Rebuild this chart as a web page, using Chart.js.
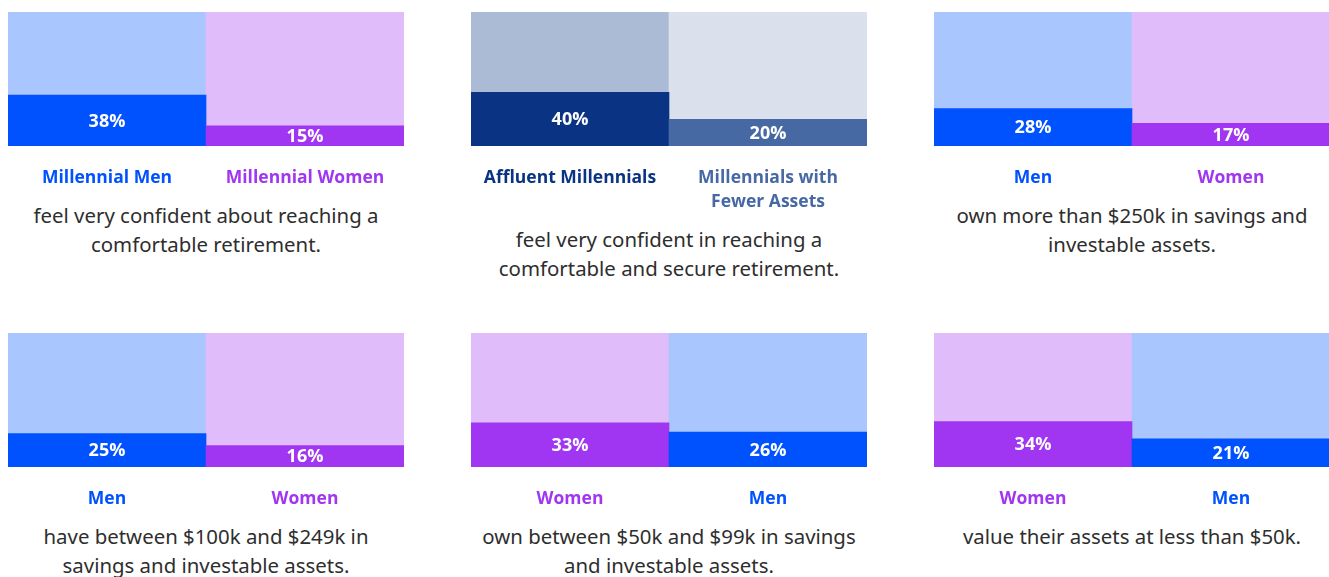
<!DOCTYPE html>
<html>
<head>
<meta charset="utf-8">
<script src="https://cdn.jsdelivr.net/npm/chart.js@4"></script>
<style>
    body { margin: 0; background: #fff; width: 1329px; height: 577px; overflow: hidden; position: relative; font-family: 'Noto Sans', sans-serif; }
    .panel { position: absolute; width: 396px; }
    .chart-box { position: relative; width: 396px; }
    .note { margin-top: -9px; text-align: center; color: #2e2e2e; font-size: 20.4px; line-height: 29px; }
</style>
</head>
<body>
<div id="panels"></div>
<script>
// chart data
const panelLabels = [
    ['Millennial Men', 'Millennial Women'],
    ['Affluent Millennials', ['Millennials with', 'Fewer Assets']],
    ['Men', 'Women'],
    ['Men', 'Women'],
    ['Women', 'Men'],
    ['Women', 'Men']
];
const panelValues = [
    [38, 15],
    [40, 20],
    [28, 17],
    [25, 16],
    [33, 26],
    [34, 21]
];
const trackValues = [100, 100];
const panelNotes = [
    ['feel very confident about reaching a', 'comfortable retirement.'],
    ['feel very confident in reaching a', 'comfortable and secure retirement.'],
    ['own more than $250k in savings and', 'investable assets.'],
    ['have between $100k and $249k in', 'savings and investable assets.'],
    ['own between $50k and $99k in savings', 'and investable assets.'],
    ['value their assets at less than $50k.']
];

// colours
const MEN = { dark: '#0052ff', light: '#a9c6ff' };
const WOMEN = { dark: '#a035f2', light: '#e0bcfb' };
const AFFLUENT = { dark: '#0a3483', light: '#abbbd6' };
const FEWER = { dark: '#4668a3', light: '#dae0ec' };
const panelColors = [
    [MEN, WOMEN],
    [AFFLUENT, FEWER],
    [MEN, WOMEN],
    [MEN, WOMEN],
    [WOMEN, MEN],
    [WOMEN, MEN]
];

const panelLeft = [8, 471, 934, 8, 471, 934];
const panelTop = [12, 12, 12, 333, 333, 333];

const valueLabels = {
    id: 'valueLabels',
    afterDatasetsDraw(chart) {
        const ctx = chart.ctx;
        const meta = chart.getDatasetMeta(0);
        ctx.save();
        ctx.fillStyle = '#fff';
        ctx.font = 'bold 18px "Open Sans", sans-serif';
        ctx.textAlign = 'center';
        ctx.textBaseline = 'middle';
        meta.data.forEach((bar, i) => {
            const v = chart.data.datasets[0].data[i];
            ctx.fillText(v + '%', bar.x, (bar.y + bar.base) / 2 + 1);
        });
        ctx.restore();
    }
};

const container = document.getElementById('panels');

panelValues.forEach((values, p) => {
    const panel = document.createElement('div');
    panel.className = 'panel';
    panel.style.left = panelLeft[p] + 'px';
    panel.style.top = panelTop[p] + 'px';

    const twoLines = panelLabels[p].some(l => Array.isArray(l));
    const box = document.createElement('div');
    box.className = 'chart-box';
    box.style.height = (twoLines ? 222 : 198) + 'px';
    const canvas = document.createElement('canvas');
    box.appendChild(canvas);
    panel.appendChild(box);

    const note = document.createElement('div');
    note.className = 'note';
    note.innerHTML = panelNotes[p].join('<br>');
    panel.appendChild(note);
    container.appendChild(panel);

    const colors = panelColors[p];

    new Chart(canvas.getContext('2d'), {
        type: 'bar',
        data: {
            labels: panelLabels[p],
            datasets: [{
                data: values,
                backgroundColor: colors.map(c => c.dark),
                grouped: false,
                categoryPercentage: 1,
                barPercentage: 1
            }, {
                data: trackValues,
                backgroundColor: colors.map(c => c.light),
                grouped: false,
                categoryPercentage: 1,
                barPercentage: 1
            }]
        },
        options: {
            responsive: true,
            maintainAspectRatio: false,
            animation: false,
            layout: { padding: 0 },
            scales: {
                x: {
                    grid: { display: false, drawTicks: false },
                    border: { display: false },
                    afterFit: function (scale) {
                        // labels fit inside their own column, no side padding needed
                        scale.paddingLeft = 0;
                        scale.paddingRight = 0;
                    },
                    ticks: {
                        padding: 20,
                        maxRotation: 0,
                        autoSkip: false,
                        font: { family: 'Open Sans', weight: 'bold', size: 17.5, lineHeight: 1.37 },
                        color: function (c) { return colors[c.index].dark; }
                    }
                },
                y: {
                    display: false,
                    min: 0,
                    max: 100
                }
            },
            plugins: {
                legend: { display: false },
                tooltip: { enabled: false }
            }
        },
        plugins: [valueLabels]
    });
});
</script>
</body>
</html>
